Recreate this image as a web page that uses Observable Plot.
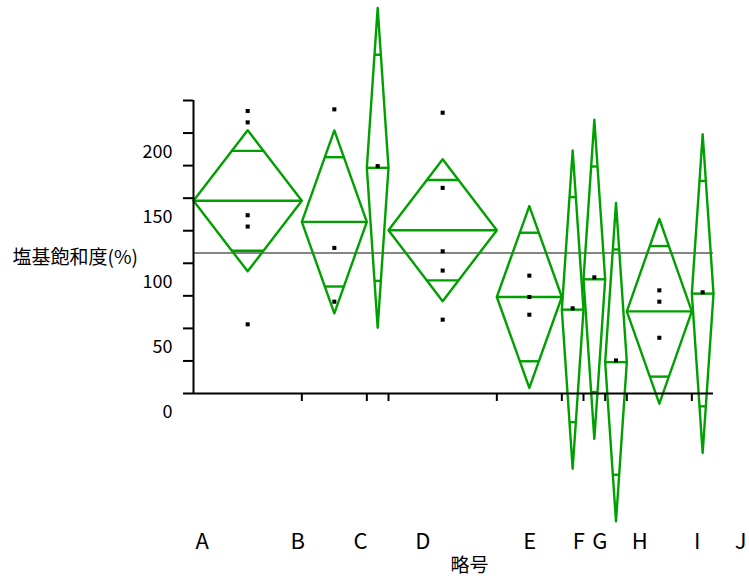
<!DOCTYPE html>
<html>
<head>
<meta charset="utf-8">
<script src="https://cdn.jsdelivr.net/npm/d3@7"></script>
<script src="https://cdn.jsdelivr.net/npm/@observablehq/plot@0.6"></script>
<style>
  html, body { margin: 0; padding: 0; background: #fff; }
  #chart svg { display: block; }
</style>
</head>
<body>
<div id="chart"></div>
<script>
// ---- data ----
const groups   = ["A","B","C","D","E","F","G","H","I","J"];
const counts   = [5, 3, 1, 5, 3, 1, 1, 1, 3, 1];
const means    = [148.0, 131.8, 173.3, 125.4, 74.1, 64.4, 87.7, 24.1, 63.1, 76.7];
const halfCI   = [54.2, 70.2, 122.8, 54.5, 69.8, 122.2, 122.5, 122.3, 70.9, 122.4];
const observed = [
  [216.9, 208.2, 136.9, 128.2, 53.1],
  [218.2, 111.8, 70.5],
  [174.6],
  [215.6, 157.9, 109.2, 94.4, 56.7],
  [90.5, 74.1, 60.5],
  [65.4],
  [89.2],
  [25.4],
  [79.2, 70.5, 42.8],
  [77.7]
];
const grandMean = 107.9;
const labelAt   = [0.40, 4.81, 7.71, 10.58, 15.52, 17.78, 18.75, 20.60, 23.25, 25.25];
const yTicks    = [0, 25, 50, 75, 100, 125, 150, 175, 200, 225];
const yLabels   = [0, 50, 100, 150, 200];
const yTitle = "塩基飽和度(%)";
const xTitle = "略号";

// ---- derived geometry (in data units) ----
let cum = 0;
const starts = counts.map(n => { const s = cum; cum += n; return s; });
const total = cum;
const bounds = starts.slice(1);
const diamond = [], meanSegs = [], overlapSegs = [], pts = [];
groups.forEach((g, i) => {
  const l = starts[i], r = l + counts[i], c = (l + r) / 2, hw = counts[i] / 2;
  const m = means[i], h = halfCI[i];
  diamond.push({g, x: l, y: m}, {g, x: c, y: m + h}, {g, x: r, y: m}, {g, x: c, y: m - h}, {g, x: l, y: m});
  meanSegs.push({x1: l, x2: r, y: m});
  const k = 1 - Math.SQRT1_2;
  overlapSegs.push({x1: c - hw * k, x2: c + hw * k, y: m + h * Math.SQRT1_2});
  overlapSegs.push({x1: c - hw * k, x2: c + hw * k, y: m - h * Math.SQRT1_2});
  observed[i].forEach(v => pts.push({x: c, y: v}));
});

const green = "#00a000";
const font = "'Noto Sans CJK JP', 'Noto Sans', sans-serif";

const chart = Plot.plot({
  width: 749,
  height: 587,
  marginLeft: 193,
  marginRight: 36,
  marginTop: 100,
  marginBottom: 194,
  style: {fontFamily: font, fontSize: "18px", color: "#000", background: "#fff"},
  x: {domain: [0, total]},
  y: {domain: [0, 225]},
  marks: [
    Plot.axisY({ticks: yTicks, tickSize: 10, strokeWidth: 2, fill: "none", label: null}),
    Plot.axisY({ticks: yLabels, tickSize: 0, tickPadding: 21, dy: 19, fontSize: 18, label: null}),
    Plot.axisX({ticks: bounds, tickSize: 8, strokeWidth: 2, fill: "none", label: null}),
    Plot.ruleY([grandMean], {x1: 0, x2: total, stroke: "#858585", strokeWidth: 2.2}),
    Plot.line(diamond, {x: "x", y: "y", z: "g", stroke: green, strokeWidth: 2.4}),
    Plot.ruleY(meanSegs, {x1: "x1", x2: "x2", y: "y", stroke: green, strokeWidth: 2.4}),
    Plot.ruleY(overlapSegs, {x1: "x1", x2: "x2", y: "y", stroke: green, strokeWidth: 2.4}),
    Plot.dot(pts, {x: "x", y: "y", symbol: "square", r: 2.3, fill: "#000", stroke: null}),
    Plot.ruleX([0], {y1: 0, y2: 225, stroke: "#000", strokeWidth: 2}),
    Plot.ruleY([0], {x1: 0, x2: total, stroke: "#000", strokeWidth: 2}),
    Plot.text(groups, {x: (d, i) => labelAt[i], text: d => d, frameAnchor: "bottom", dy: 155, fontSize: 22, fill: "#000"}),
    Plot.text([xTitle], {frameAnchor: "bottom", dx: 16, dy: 178, fontSize: 19, fill: "#000"}),
    Plot.text([yTitle], {frameAnchor: "left", textAnchor: "start", dx: -181, dy: 10.5, fontSize: 19, fill: "#000"})
  ]
});
document.getElementById("chart").appendChild(chart);
</script>
</body>
</html>
